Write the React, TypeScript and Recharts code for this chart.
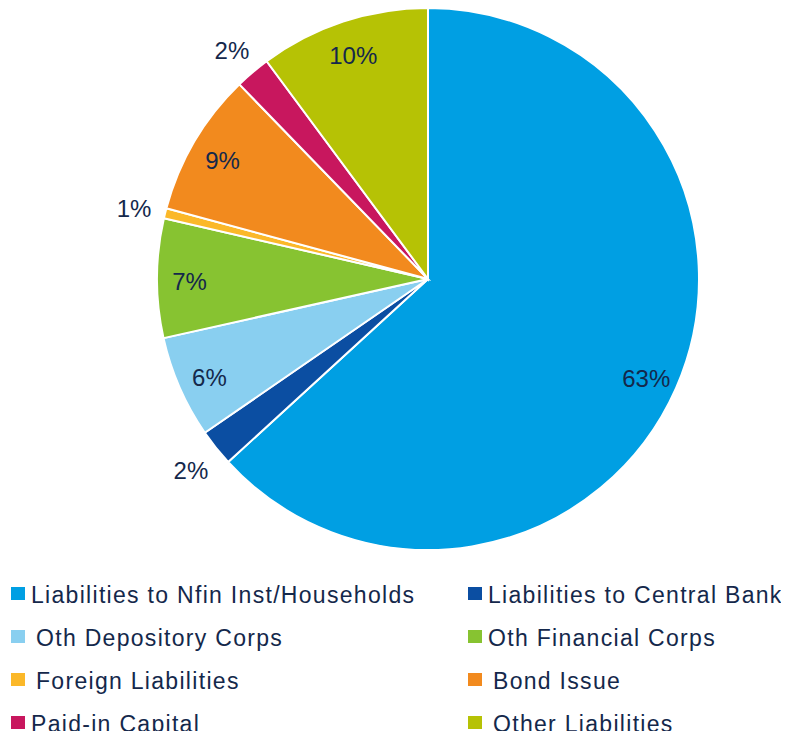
import { PieChart, Pie, Cell, Legend } from "recharts";

const categories = [
  "Liabilities to Nfin Inst/Households",
  "Liabilities to Central Bank",
  "Oth Depository Corps",
  "Oth Financial Corps",
  "Foreign Liabilities",
  "Bond Issue",
  "Paid-in Capital",
  "Other Liabilities",
];

const values = [63.2, 2.2, 6.1, 7.1, 0.6, 8.55, 2.1, 10.15];

const colors = [
  "#009FE3",
  "#0B4EA2",
  "#89CFF0",
  "#87C331",
  "#FBB829",
  "#F28A1E",
  "#C8175E",
  "#B6C205",
];

const data = categories.map((name, i) => ({ name, value: values[i] }));

const FONT = "'Liberation Sans', Arial, sans-serif";
const TEXT = "#14284B";
const RAD = Math.PI / 180;

function renderLabel(props: any) {
  const { cx, cy, midAngle, outerRadius, percent } = props;
  const r = percent >= 0.05 ? outerRadius * 0.88 : outerRadius + 32;
  const x = cx + r * Math.cos(-midAngle * RAD);
  const y = cy + r * Math.sin(-midAngle * RAD) + 3;
  return (
    <text
      x={x}
      y={y}
      fill={TEXT}
      textAnchor="middle"
      dominantBaseline="central"
      style={{ fontFamily: FONT, fontSize: 24 }}
    >
      {`${Math.round(percent * 100)}%`}
    </text>
  );
}

// some legend entries sit a little further from their marker
const legendIndent = [0, 0, 1, 0, 1, 1, 0, 1];

function LegendBox() {
  return (
    <div
      style={{
        display: "grid",
        gridTemplateColumns: "457px 332px",
        fontFamily: FONT,
        fontSize: 23,
        letterSpacing: 1.3,
        color: TEXT,
      }}
    >
      {categories.map((name, i) => (
        <div
          key={name}
          style={{
            display: "flex",
            alignItems: "center",
            height: 43,
            paddingLeft: 11,
            whiteSpace: "nowrap",
          }}
        >
          <span
            style={{
              display: "inline-block",
              width: 14,
              height: 11,
              background: colors[i],
              borderBottom: `2px solid ${colors[i]}88`,
              marginRight: legendIndent[i] ? 11 : 6,
              marginTop: -4,
            }}
          />
          <span>{name}</span>
        </div>
      ))}
    </div>
  );
}

export default function App() {
  return (
    <div style={{ margin: -8, width: 789, height: 739, background: "#fff" }}>
      <PieChart
        width={789}
        height={739}
        margin={{ top: 0, right: 0, bottom: 0, left: 0 }}
      >
        <Pie
          data={data}
          dataKey="value"
          nameKey="name"
          cx={428}
          cy={279}
          outerRadius={271}
          startAngle={90}
          endAngle={-270}
          stroke="#ffffff"
          strokeWidth={2}
          label={renderLabel}
          labelLine={false}
          isAnimationActive={false}
        >
          {data.map((d, i) => (
            <Cell key={d.name} fill={colors[i]} />
          ))}
        </Pie>
        <Legend
          content={() => <LegendBox />}
          wrapperStyle={{ left: 0, top: 574, width: 789 }}
        />
      </PieChart>
    </div>
  );
}
